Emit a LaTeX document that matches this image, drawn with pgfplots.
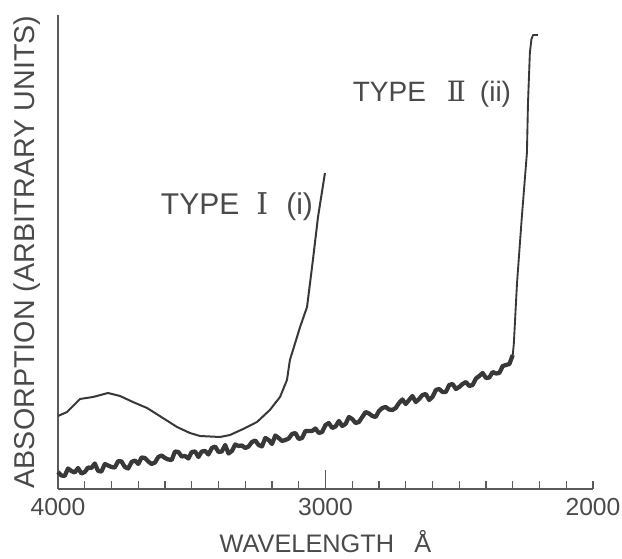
\documentclass[border=0pt]{standalone}
\usepackage{pgfplots}
\pgfplotsset{compat=1.18}
\usepackage{fontspec}
\setmainfont{Liberation Sans}
\newfontfamily\romfont{DejaVu Serif}
\definecolor{txt}{HTML}{4A4A4A}
\definecolor{crv}{HTML}{383838}
\definecolor{axc}{HTML}{5A5A5A}
\begin{document}
\begin{tikzpicture}
\begin{axis}[
  scale only axis, width=401.25pt, height=355.5pt,
  xmin=2000, xmax=4000, x dir=reverse, ymin=0, ymax=474,
  axis x line=bottom, axis y line=left,
  axis line style={-, color=axc, line width=1.1pt},
  ytick=\empty,
  xtick={4000,3000,2000}, xticklabels={4000,3000,2000},
  minor x tick num=9,
  tick align=inside, major tick length=6pt, minor tick length=6pt,
  tick style={color=axc, line width=0.8pt},
  extra x ticks={3000}, extra x tick labels={},
  extra x tick style={major tick length=14pt},
  xticklabel style={font=\fontsize{18.5}{20}\selectfont, text=txt, inner sep=0pt, yshift=-7pt, anchor=north},
  clip=false,
]
% Type I (i)
\addplot[color=crv, line width=1.5pt, line join=round] coordinates {
(4000,73) (3966,77) (3918,90) (3869,92) (3813,96) (3768,93) (3720,87)
(3667,81) (3608,71) (3555,62) (3507,56) (3469,53) (3394,52) (3357,54)
(3308,60) (3256,67) (3208,79) (3170,92) (3144,109) (3133,129) (3095,162)
(3069,182) (3047,229) (3028,272) (3002,316)
};
% Type II (ii): noisy band
\addplot[color=crv, line width=3.2pt, line join=round] coordinates {
(4000,17) (3987.5,13.5) (3975,13) (3962.5,20.5) (3950,18) (3937.5,16.5)
(3925,21) (3912.5,15.5) (3900,17) (3887.5,21.5) (3875,21) (3862.5,25.5)
(3850,18) (3837.5,17.5) (3825,25) (3812.5,23.5) (3800,22) (3787.5,21.5)
(3775,28) (3762.5,27.5) (3750,22) (3737.5,20.5) (3725,27) (3712.5,28.5)
(3700,25) (3687.5,31.5) (3675,31) (3662.5,27.5) (3650,25) (3637.5,26.5)
(3625,32) (3612.5,33.5) (3600,31) (3587.5,29.5) (3575,29) (3562.5,37.5)
(3550,37) (3537.5,32.5) (3525,33) (3512.5,30.5) (3500,37) (3487.5,37.5)
(3475,32) (3462.5,37.5) (3450,38) (3437.5,34.5) (3425,41) (3412.5,42.5)
(3400,37) (3387.5,37.5) (3375,44) (3362.5,35.5) (3350,38) (3337.5,44.5)
(3325,43) (3312.5,43.5) (3300,41) (3287.5,42.5) (3275,47) (3262.5,48.5)
(3250,44) (3237.5,42.5) (3225,51) (3212.5,49) (3200,45) (3187.5,53.5)
(3175,51) (3162.5,48) (3150,49) (3137.5,50.5) (3125,55) (3112.5,56)
(3100,50) (3087.5,51) (3075,58) (3062.5,58) (3050,58) (3037.5,60.5)
(3025,56) (3012.5,57) (3000,64) (2987.5,66) (2975,61) (2962.5,62.5)
(2950,68) (2937.5,63) (2925,65) (2912.5,72) (2900,70) (2887.5,66)
(2875,67) (2862.5,72) (2850,77) (2837.5,75.5) (2825,73) (2812.5,72)
(2800,78) (2787.5,81) (2775,82) (2762.5,79.5) (2750,79) (2737.5,81)
(2725,86) (2712.5,89.5) (2700,85) (2687.5,89) (2675,93) (2662.5,87)
(2650,90) (2637.5,94) (2625,95) (2612.5,89) (2600,92) (2587.5,99)
(2575,100) (2562.5,97) (2550,97) (2537.5,104) (2525,105) (2512.5,100)
(2500,102) (2487.5,105) (2475,107) (2462.5,103) (2450,104) (2437.5,110.5)
(2425,113) (2412.5,116) (2400,111) (2387.5,111.5) (2375,117) (2362.5,115.5)
(2350,116) (2337.5,123) (2325,124) (2312.5,125) (2300,134)
};
% Type II (ii): steep rise
\addplot[color=crv, line width=1.4pt, line join=round] coordinates {
(2300,134) (2296,145) (2284,206) (2266,272) (2247,336) (2243,386)
(2236,436) (2230,450) (2224,454) (2206,454)
};
\node[anchor=base, font=\fontsize{22.5}{26}\selectfont, text=txt] at (axis cs:3331,274)
  {TYPE\hspace{0.57em}{\romfont Ⅰ}\hspace{0.6em}(i)};
\node[anchor=base, font=\fontsize{21}{24}\selectfont, text=txt] at (axis cs:2602,387)
  {TYPE\hspace{0.75em}{\romfont Ⅱ}\hspace{0.5em}(ii)};
\coordinate (orig) at (axis cs:4000,0);
\coordinate (midx) at (axis cs:3000,0);
\coordinate (midy) at (axis cs:4000,237);
\coordinate (topr) at (axis cs:2000,474);
\end{axis}
\node[anchor=base, font=\fontsize{19}{22}\selectfont, text=txt, inner sep=0pt] at ([yshift=-48pt]midx)
  {WAVELENGTH\hspace{0.8em}Å};
\node[rotate=90, anchor=center, font=\fontsize{21.5}{24}\selectfont, text=txt] at ([xshift=-23.25pt]midy)
  {ABSORPTION (ARBITRARY UNITS)};
\pgfresetboundingbox
\path[use as bounding box] ([xshift=-43.5pt,yshift=-52.5pt]orig) rectangle ([xshift=21.75pt,yshift=11.25pt]topr);
\end{tikzpicture}
\end{document}
